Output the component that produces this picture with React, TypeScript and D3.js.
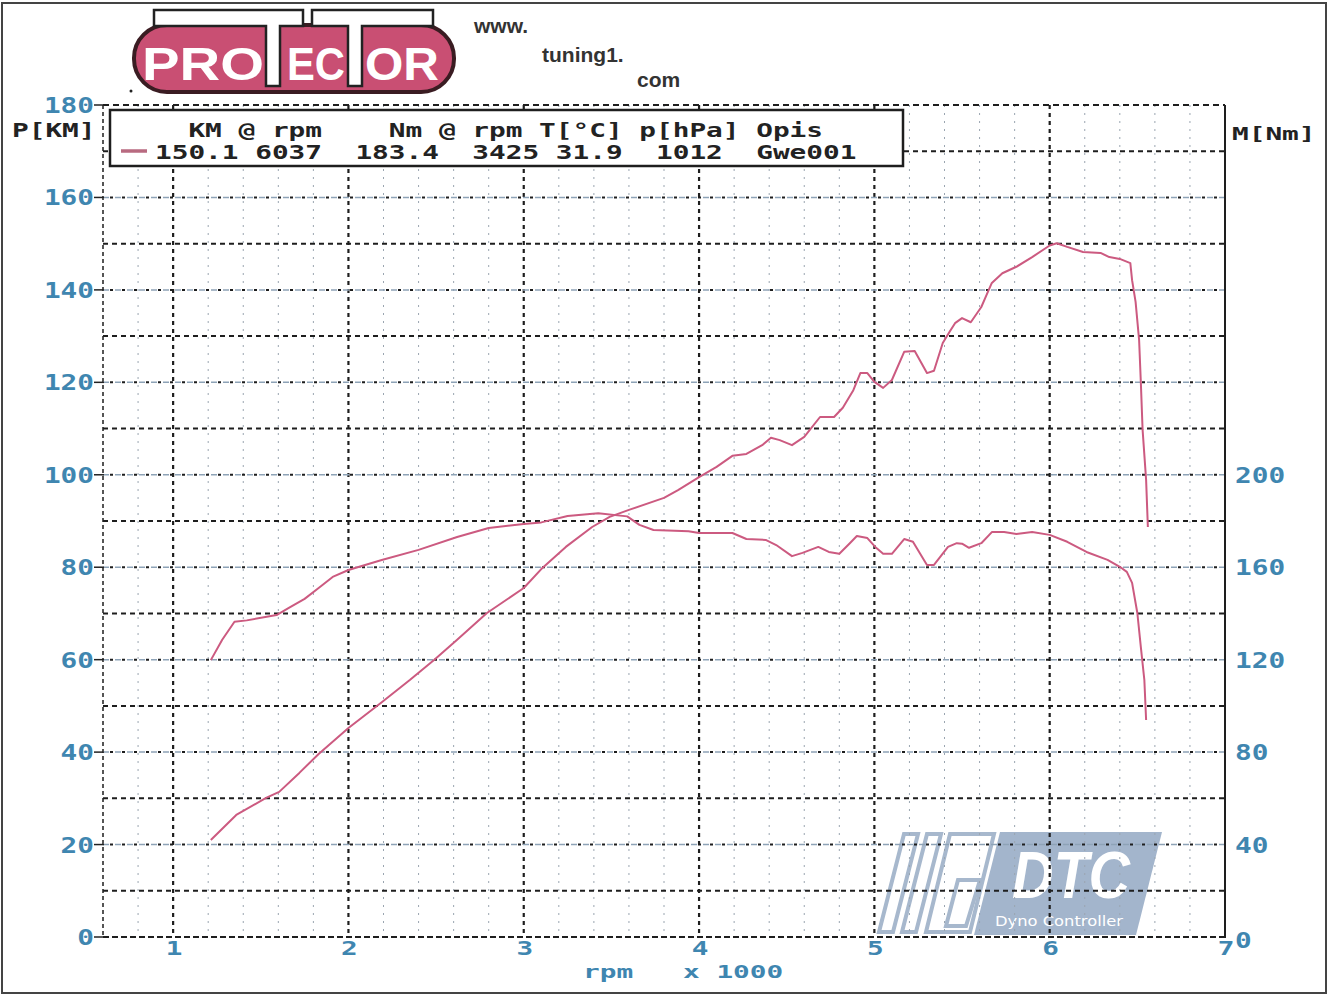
import * as d3 from "d3";

// dyno run
const powerRpm = [
  1215, 1360, 1530, 1605, 1720, 1830, 2000, 2190, 2350, 2490, 2620, 2790, 3000,
  3100, 3240, 3390, 3490, 3600, 3800, 3880, 4000, 4100, 4190, 4270, 4360, 4410,
  4460, 4530, 4600, 4690, 4770, 4820, 4880, 4920, 4960, 5000, 5050, 5100, 5170,
  5230, 5300, 5340, 5390, 5430, 5460, 5500, 5550, 5610, 5640, 5670, 5730, 5810,
  5900, 6000, 6040, 6100, 6190, 6290, 6340, 6400, 6460, 6470, 6490, 6510, 6520,
  6530, 6550, 6560,
];
const powerKm = [
  21.0, 26.4, 30.1, 31.4, 35.5, 39.6, 45.2, 50.8, 55.6, 60.0, 64.3, 70.1, 75.5,
  79.6, 84.4, 88.7, 90.9, 92.4, 95.0, 96.7, 99.5, 101.7, 104.1, 104.5, 106.4,
  108.0, 107.5, 106.4, 108.2, 112.5, 112.5, 114.5, 118.3, 122.0, 122.0, 120.1,
  118.8, 120.5, 126.6, 126.8, 122.0, 122.5, 128.5, 131.0, 132.8, 133.9, 133.0,
  136.3, 138.9, 141.5, 143.6, 145.0, 147.1, 149.6, 150.1, 149.3, 148.2, 148.0,
  147.1, 146.7, 145.8, 142.1, 137.4, 129.2, 119.9, 109.7, 98.9, 88.7,
];
const torqueRpm = [
  1215, 1280, 1350, 1420, 1590, 1660, 1750, 1830, 1910, 2000, 2190, 2400, 2620,
  2800, 3000, 3100, 3250, 3425, 3590, 3660, 3740, 3940, 4000, 4190, 4270, 4380,
  4440, 4530, 4590, 4680, 4740, 4800, 4860, 4900, 4960, 5010, 5050, 5100, 5170,
  5220, 5300, 5340, 5420, 5470, 5500, 5540, 5610, 5670, 5740, 5810, 5900, 6000,
  6100, 6210, 6330, 6400, 6440, 6470, 6500, 6520, 6540, 6550,
];
const torqueNm = [
  119.8, 128.6, 136.4, 137.0, 139.3, 142.4, 146.3, 151.0, 155.8, 158.8, 163.1,
  167.5, 173.1, 177.0, 178.7, 179.4, 182.2, 183.4, 182.0, 178.3, 176.1, 175.6,
  174.8, 174.8, 172.2, 171.8, 169.6, 164.8, 166.2, 168.8, 166.6, 165.8, 170.4,
  173.5, 172.6, 168.4, 165.8, 165.8, 172.2, 171.0, 161.0, 161.0, 168.8, 170.4,
  170.2, 168.4, 170.4, 175.2, 175.2, 174.4, 175.2, 174.0, 171.0, 166.6, 163.2,
  160.2, 158.0, 153.2, 140.2, 125.4, 111.2, 93.9,
];

const powerTicks = [0, 20, 40, 60, 80, 100, 120, 140, 160, 180];
const torqueTicks = [0, 40, 80, 120, 160, 200];
const rpmTicks = [1000, 2000, 3000, 4000, 5000, 6000, 7000];

const legendHead = "  KM @ rpm    Nm @ rpm T[°C] p[hPa] Opis";
const legendRow = "150.1 6037  183.4  3425 31.9  1012  Gwe001";

const W = 1330;
const H = 997;
const mono = "'DejaVu Sans Mono', monospace";
const cell = 16.7;
const blue = "#3f86b0";
const curve = "#cc5a80";

const x = d3.scaleLinear().domain([600, 7000]).range([103, 1225]);
const y = d3.scaleLinear().domain([0, 180]).range([937, 105]);
const yR = d3.scaleLinear().domain([0, 360]).range([937, 105]);

function Txt({
  x,
  y,
  s,
  fill = "#222",
  anchor = "start",
  size = 21,
}: {
  x: number;
  y: number;
  s: string;
  fill?: string;
  anchor?: string;
  size?: number;
}) {
  return (
    <text
      x={x}
      y={y}
      fill={fill}
      fontFamily={mono}
      fontWeight="bold"
      fontSize={size}
      textAnchor={anchor}
      textLength={s.length * cell}
      lengthAdjust="spacingAndGlyphs"
      style={{ whiteSpace: "pre" }}
    >
      {s}
    </text>
  );
}

export default function App() {
  const line = d3
    .line<[number, number]>()
    .x((d) => x(d[0]))
    .y((d) => d[1]);

  const powerPath = line(powerRpm.map((r, i) => [r, y(powerKm[i])]));
  const torquePath = line(torqueRpm.map((r, i) => [r, yR(torqueNm[i])]));

  const minorX = d3.range(800, 7000, 200).filter((r) => r % 1000 !== 0);
  const hLines = d3.range(10, 180, 10);

  return (
    <div style={{ position: "absolute", left: 0, top: 0 }}>
      <svg width={W} height={H} style={{ display: "block", background: "#fff" }}>
        {/* frame */}
        <rect x={2} y={3} width={1324} height={990} fill="none" stroke="#444" strokeWidth={2} />

        {/* Protector logo */}
        <g>
          <rect x={134} y={25} width={320} height={67} rx={33} fill="#c94f73" stroke="#3a1c22" strokeWidth={4} />
          <text x={142} y={80} fill="#fff" fontFamily="'Liberation Sans', Arial" fontWeight="bold" fontSize={46} textLength={122} lengthAdjust="spacingAndGlyphs">PRO</text>
          <text x={287} y={80} fill="#fff" fontFamily="'Liberation Sans', Arial" fontWeight="bold" fontSize={46} textLength={58} lengthAdjust="spacingAndGlyphs">EC</text>
          <text x={365} y={80} fill="#fff" fontFamily="'Liberation Sans', Arial" fontWeight="bold" fontSize={46} textLength={74} lengthAdjust="spacingAndGlyphs">OR</text>
          <path d="M154,10 H303 V26 H280 V86 H266 V26 H154 Z" fill="#fff" stroke="#222" strokeWidth={2.5} />
          <path d="M312,10 H433 V26 H362 V86 H348 V26 H312 Z" fill="#fff" stroke="#222" strokeWidth={2.5} />
          <circle cx={131} cy={91} r={1.5} fill="#222" />
        </g>
        <g fontFamily="'Liberation Sans', Arial" fontWeight="bold" fontSize={21} fill="#333">
          <text x={474} y={33}>www.</text>
          <text x={542} y={62}>tuning1.</text>
          <text x={637} y={87}>com</text>
        </g>

        {/* DTC logo (behind grid) */}
        <g fill="none" stroke="#a7b8cd" strokeWidth={4}>
          <path d="M904,834 L918,834 L893,932 L879,932 Z" />
          <path d="M927,834 L941,834 L916,932 L902,932 Z" />
          <path d="M950,834 L994,834 L970,932 L926,932 Z" />
          <path d="M958,880 L980,880 L966,926 L946,926 Z" />
        </g>
        <path d="M1000,832 L1162,832 L1136,935 L974,935 Z" fill="#a3b5cc" />
        <text x={1012} y={898} fill="#fff" fontFamily="'Liberation Sans', Arial" fontWeight="bold" fontStyle="italic" fontSize={66} textLength={118} lengthAdjust="spacingAndGlyphs">DTC</text>
        <text x={995} y={926} fill="#fff" fontFamily="'DejaVu Sans', sans-serif" fontSize={14} textLength={128} lengthAdjust="spacingAndGlyphs">Dyno Controller</text>

        {/* grid: vertical */}
        {minorX.map((r) => (
          <line key={`mx${r}`} x1={x(r)} x2={x(r)} y1={105} y2={937} stroke="#9aa5b0" strokeWidth={1} strokeDasharray="2 6" />
        ))}
        {rpmTicks.slice(0, -1).map((r) => (
          <line key={`vx${r}`} x1={x(r)} x2={x(r)} y1={105} y2={937} stroke="#1e1e1e" strokeWidth={2.2} strokeDasharray="4 4" />
        ))}
        <line x1={x(600)} x2={x(600)} y1={105} y2={937} stroke="#1e1e1e" strokeWidth={1.5} strokeDasharray="4 3" />

        {/* grid: horizontal */}
        {hLines.map((v) =>
          v % 20 === 0 ? (
            <g key={`h${v}`}>
              <line x1={103} x2={1225} y1={y(v)} y2={y(v)} stroke="#8ea3b7" strokeWidth={1.5} strokeDasharray="6 6" />
              <line x1={103} x2={1225} y1={y(v)} y2={y(v)} stroke="#1e1e1e" strokeWidth={2} strokeDasharray="3 9" strokeDashoffset={-7} />
            </g>
          ) : (
            <line key={`h${v}`} x1={103} x2={1225} y1={y(v)} y2={y(v)} stroke="#1e1e1e" strokeWidth={2} strokeDasharray="5 4" />
          )
        )}
        <line x1={103} x2={1225} y1={y(180)} y2={y(180)} stroke="#1e1e1e" strokeWidth={2} strokeDasharray="6 4" />
        <line x1={103} x2={1225} y1={y(0)} y2={y(0)} stroke="#1e1e1e" strokeWidth={2} strokeDasharray="6 3" />
        <line x1={1225} x2={1225} y1={105} y2={938} stroke="#1e1e1e" strokeWidth={2} />

        {/* curves */}
        <path d={powerPath ?? ""} fill="none" stroke={curve} strokeWidth={2} strokeLinejoin="round" />
        <path d={torquePath ?? ""} fill="none" stroke={curve} strokeWidth={2} strokeLinejoin="round" />

        {/* legend */}
        <rect x={110} y={110} width={793} height={56} fill="#fff" stroke="#1e1e1e" strokeWidth={2.5} />
        <line x1={121} x2={147} y1={151} y2={151} stroke="#b86a80" strokeWidth={3.5} />
        <Txt x={155} y={137} s={legendHead} size={19} />
        <Txt x={155} y={159} s={legendRow} size={19} />

        {/* left axis */}
        {powerTicks.map((v) => (
          <g key={`pl${v}`}>
            <line x1={94} x2={104} y1={y(v)} y2={y(v)} stroke="#222" strokeWidth={1.5} />
            <Txt x={94} y={y(v) + 8} s={String(v)} fill={blue} anchor="end" />
          </g>
        ))}
        <Txt x={12} y={137} s="P[KM]" size={19} />

        {/* right axis */}
        {torqueTicks.map((v) => (
          <Txt key={`tr${v}`} x={1235} y={yR(v) + (v === 0 ? 11 : 8)} s={String(v)} fill={blue} />
        ))}
        <Txt x={1232} y={140} s="M[Nm]" size={18} />

        {/* bottom axis */}
        {rpmTicks.map((r) => (
          <Txt key={`rx${r}`} x={x(r) + 1} y={955} s={String(r / 1000)} fill={blue} anchor="middle" size={19} />
        ))}
        <Txt x={583} y={978} s="rpm" fill={blue} size={18} />
        <Txt x={683} y={978} s="x 1000" fill={blue} size={18} />
      </svg>
    </div>
  );
}
